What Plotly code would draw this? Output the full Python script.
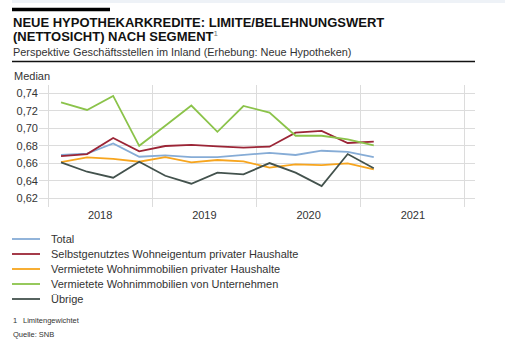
import plotly.graph_objects as go

quarters = ["2018-Q1", "2018-Q2", "2018-Q3", "2018-Q4",
            "2019-Q1", "2019-Q2", "2019-Q3", "2019-Q4",
            "2020-Q1", "2020-Q2", "2020-Q3", "2020-Q4",
            "2021-Q1"]

total = [0.6695, 0.671, 0.6828, 0.6675, 0.669, 0.6672, 0.667, 0.6695,
         0.672, 0.6695, 0.6744, 0.673, 0.667]
selbst = [0.6683, 0.6706, 0.689, 0.6737, 0.6798, 0.681, 0.6794, 0.678,
          0.679, 0.695, 0.697, 0.6832, 0.6847]
verm_priv = [0.6615, 0.6668, 0.665, 0.6618, 0.667, 0.6611, 0.6638, 0.6622,
             0.655, 0.6589, 0.658, 0.660, 0.6531]
verm_untern = [0.7297, 0.721, 0.737, 0.680, 0.703, 0.726, 0.696, 0.7255,
               0.718, 0.6915, 0.6915, 0.6874, 0.6805]
uebrige = [0.6611, 0.6504, 0.6436, 0.6618, 0.6458, 0.6367, 0.6494, 0.6474,
           0.6603, 0.6493, 0.634, 0.6706, 0.6543]

series_names = ["Total",
                "Selbstgenutztes Wohneigentum privater Haushalte",
                "Vermietete Wohnimmobilien privater Haushalte",
                "Vermietete Wohnimmobilien von Unternehmen",
                "Übrige"]
series_values = [total, selbst, verm_priv, verm_untern, uebrige]
series_colors = ["#86ACD6", "#9B2536", "#F7A51E", "#8BC34A", "#43524D"]

years = [2018, 2019, 2020, 2021]
year_labels = ["2018", "2019", "2020", "2021"]
y_ticks = [0.62, 0.64, 0.66, 0.68, 0.70, 0.72, 0.74]

# quarter midpoints as fractional years
xq = [int(q[:4]) + (int(q[-1]) - 0.5) / 4 for q in quarters]

FONT = "Liberation Sans, Arial, sans-serif"
TXT = "#333333"

# plot area in pixels
L, R, T, B = 39, 475, 85, 207
W, H = 513, 344


def px(x):
    return (x - L) / (R - L)


def py(y):
    return (B - y) / (B - T)


fig = go.Figure()
for name, vals, col in zip(series_names, series_values, series_colors):
    fig.add_trace(go.Scatter(x=xq, y=vals, mode="lines", name=name,
                             line=dict(color=col, width=1.8),
                             showlegend=False))

annotations = []
shapes = []

# top light band and black bar
shapes.append(dict(type="rect", xref="paper", yref="paper",
                   x0=px(12), x1=px(505), y0=py(3), y1=py(-2),
                   fillcolor="#EEF2F7", line=dict(width=0), layer="below"))
shapes.append(dict(type="line", xref="paper", yref="paper",
                   x0=px(12), x1=px(110), y0=py(9.5), y1=py(9.5),
                   line=dict(color="#000000", width=3.5)))
# subtitle underline
shapes.append(dict(type="line", xref="paper", yref="paper",
                   x0=px(12), x1=px(475), y0=py(61.5), y1=py(61.5),
                   line=dict(color="#111111", width=1.5)))

annotations.append(dict(xref="paper", yref="paper", x=px(11), y=py(22.5),
                        xanchor="left", yanchor="middle", showarrow=False,
                        text="<b>NEUE HYPOTHEKARKREDITE: LIMITE/BELEHNUNGSWERT</b>",
                        font=dict(family=FONT, size=13, color="#111111")))
annotations.append(dict(xref="paper", yref="paper", x=px(11), y=py(36),
                        xanchor="left", yanchor="middle", showarrow=False,
                        text="<b>(NETTOSICHT) NACH SEGMENT</b>"
                             "<sup><span style='font-size:8px;color:#777777'>1</span></sup>",
                        font=dict(family=FONT, size=13, color="#111111")))
annotations.append(dict(xref="paper", yref="paper", x=px(11), y=py(51.5),
                        xanchor="left", yanchor="middle", showarrow=False,
                        text="Perspektive Geschäftsstellen im Inland (Erhebung: Neue Hypotheken)",
                        font=dict(family=FONT, size=10.9, color=TXT)))
annotations.append(dict(xref="paper", yref="paper", x=px(12), y=py(76),
                        xanchor="left", yanchor="middle", showarrow=False,
                        text="Median",
                        font=dict(family=FONT, size=11, color=TXT)))

# manual legend
leg_y = [239, 254, 269, 284, 299]
for name, col, ly in zip(series_names, series_colors, leg_y):
    shapes.append(dict(type="line", xref="paper", yref="paper",
                       x0=px(12), x1=px(40), y0=py(ly), y1=py(ly),
                       line=dict(color=col, width=1.8)))
    annotations.append(dict(xref="paper", yref="paper", x=px(49), y=py(ly),
                            xanchor="left", yanchor="middle", showarrow=False,
                            text=name,
                            font=dict(family=FONT, size=11, color=TXT)))

annotations.append(dict(xref="paper", yref="paper", x=px(11), y=py(320.5),
                        xanchor="left", yanchor="middle", showarrow=False,
                        text="1",
                        font=dict(family=FONT, size=7.5, color=TXT)))
annotations.append(dict(xref="paper", yref="paper", x=px(21), y=py(320.5),
                        xanchor="left", yanchor="middle", showarrow=False,
                        text="Limitengewichtet",
                        font=dict(family=FONT, size=7.5, color=TXT)))
annotations.append(dict(xref="paper", yref="paper", x=px(11), y=py(334),
                        xanchor="left", yanchor="middle", showarrow=False,
                        text="Quelle: SNB",
                        font=dict(family=FONT, size=7.5, color=TXT)))

fig.update_layout(
    width=W, height=H,
    margin=dict(l=L, r=W - R, t=T, b=H - B, pad=0),
    paper_bgcolor="white", plot_bgcolor="white",
    separators=",.",
    showlegend=False,
    font=dict(family=FONT, size=11, color=TXT),
    annotations=annotations,
    shapes=shapes,
    xaxis=dict(range=[2017.9137, 2022.096], tickmode="array",
               tickvals=[y + 0.5 for y in years], ticktext=year_labels,
               showgrid=False, zeroline=False, showline=False, ticks="",
               tickfont=dict(family=FONT, size=11, color=TXT),
               minor=dict(tickmode="array", tickvals=years + [2022],
                          showgrid=True, gridcolor="#DCDCDC", gridwidth=1.3,
                          ticks="")),
    yaxis=dict(range=[0.6101, 0.7495], tickmode="array", tickvals=y_ticks,
               tickformat=".2f", showgrid=True, gridcolor="#DCDCDC",
               gridwidth=1.3, zeroline=False, showline=False, ticks="",
               tickfont=dict(family=FONT, size=11, color=TXT)),
)

fig.write_html("out.html")
